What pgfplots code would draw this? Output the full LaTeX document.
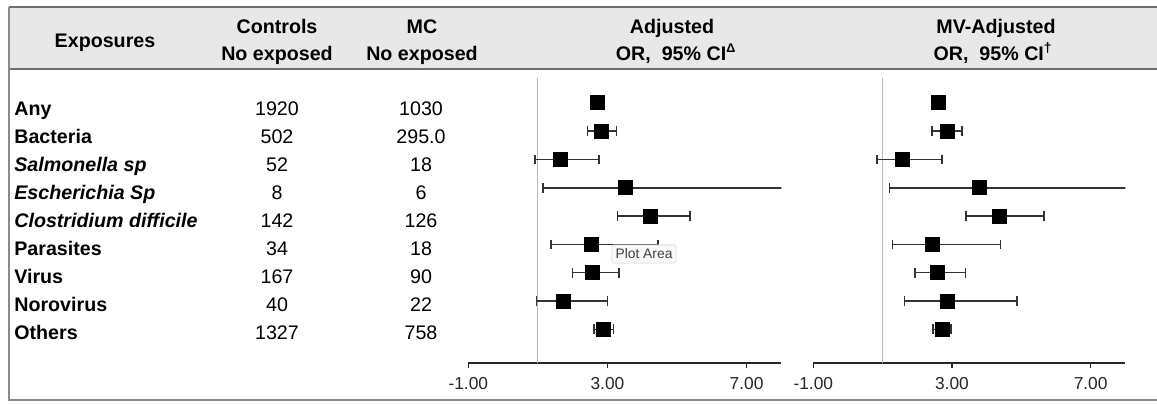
\documentclass[border=0pt]{standalone}
\usepackage{fontspec}
\setmainfont{Liberation Sans}
\usepackage{pgfplots}
\pgfplotsset{compat=1.18}
\usepackage{pgfplotstable}

% y = row position, or = odds ratio, lo/hi = 95% CI
\pgfplotstableread{
y or lo hi
-1 2.72 2.60 2.85
-2 2.83 2.43 3.26
-3 1.65 0.92 2.76
-4 3.52 1.14 9.50
-5 4.22 3.29 5.37
-6 2.54 1.38 4.46
-7 2.56 2.00 3.33
-8 1.73 0.96 3.00
-9 2.88 2.61 3.17
}\adjtable

\pgfplotstableread{
y or lo hi
-1 2.62 2.50 2.75
-2 2.86 2.43 3.29
-3 1.56 0.83 2.71
-4 3.80 1.20 9.50
-5 4.38 3.40 5.65
-6 2.43 1.29 4.40
-7 2.57 1.93 3.39
-8 2.86 1.63 4.88
-9 2.71 2.45 2.98
}\mvtable

\definecolor{hdrfill}{HTML}{E8E8E8}
\definecolor{hdrline}{HTML}{6E6E6E}
\definecolor{frameline}{HTML}{8A8A8A}

\pgfplotsset{
  forest/.style={
    scale only axis, height=171pt,
    xmin=-1, xmax=8, ymin=-10.2, ymax=-0.134,
    axis x line=bottom, axis y line=none,
    x axis line style={-, line width=1.1pt, black!85},
    xtick={-1,3,7}, ytick=\empty,
    tick align=outside, major tick length=3pt,
    xtick style={line width=0.9pt, black!85},
    xticklabel style={font=\fontsize{10.4}{12}\selectfont, text=black!85, yshift=-2.2pt},
    xticklabel={\pgfmathprintnumber[fixed, fixed zerofill, precision=2, assume math mode=true]{\tick}},
  },
  orplot/.style={
    only marks, mark=square*, mark size=4.2pt, black,
    error bars/.cd, x dir=both, x explicit,
    error bar style={line width=0.95pt, black!80},
    error mark options={black!80, line width=0.95pt, mark size=2.9pt, rotate=90},
  },
}

\begin{document}
\begin{tikzpicture}
% frame and header
\begin{scope}[x=0.6pt, y=-0.6pt]
  \path[use as bounding box] (0,0) rectangle (1157,403);
  \fill[hdrfill] (9,6.7) rectangle (1157,69.3);
  \draw[hdrline, line width=1.0pt] (9,6.7) -- (1157,6.7);
  \draw[hdrline, line width=1.3pt] (9,69.3) -- (1157,69.3);
  \draw[frameline, line width=0.9pt] (9,6.7) -- (9,400) -- (1157,400);
\end{scope}

\begin{axis}[forest, width=187.8pt, at={(280.98pt,-217.98pt)}, anchor=south west]
  \addplot[gray!55, line width=0.6pt] coordinates {(1,-10.2) (1,-0.134)};
  \addplot[orplot] table[x=or, y=y,
    x error plus expr=\thisrow{hi}-\thisrow{or},
    x error minus expr=\thisrow{or}-\thisrow{lo}] {\adjtable};
\end{axis}

\begin{axis}[forest, width=187.2pt, at={(487.98pt,-217.98pt)}, anchor=south west]
  \addplot[gray!55, line width=0.6pt] coordinates {(1,-10.2) (1,-0.134)};
  \addplot[orplot] table[x=or, y=y,
    x error plus expr=\thisrow{hi}-\thisrow{or},
    x error minus expr=\thisrow{or}-\thisrow{lo}] {\mvtable};
\end{axis}

\begin{scope}[x=0.6pt, y=-0.6pt, every node/.style={inner sep=0pt, font=\fontsize{11.8}{14}\selectfont}]
  % header texts
  \node[anchor=base, font=\fontsize{11.8}{14}\selectfont\bfseries] at (105,47) {Exposures};
  \node[anchor=base, font=\fontsize{11.8}{14}\selectfont\bfseries] at (277,33.3) {Controls};
  \node[anchor=base, font=\fontsize{11.8}{14}\selectfont\bfseries] at (277,60) {No exposed};
  \node[anchor=base, font=\fontsize{11.8}{14}\selectfont\bfseries] at (422,33.3) {MC};
  \node[anchor=base, font=\fontsize{11.8}{14}\selectfont\bfseries] at (422,60) {No exposed};
  \node[anchor=base, font=\fontsize{11.8}{14}\selectfont\bfseries] at (672,33.3) {Adjusted};
  \node[anchor=base, font=\fontsize{11.8}{14}\selectfont\bfseries] at (676,60) {OR,\ \ 95\% CI\textsuperscript{\fontsize{7.5}{8}\selectfont Δ}};
  \node[anchor=base, font=\fontsize{11.8}{14}\selectfont\bfseries] at (996,33.3) {MV-Adjusted};
  \node[anchor=base, font=\fontsize{11.8}{14}\selectfont\bfseries] at (993,60) {OR,\ \ 95\% CI\textsuperscript{†}};

  % row labels and counts
  \foreach \lab/\ctl/\mc [count=\i from 0] in {
      {\bfseries Any}/1920/1030,
      {\bfseries Bacteria}/502/295.0,
      {\bfseries\itshape Salmonella sp}/52/18,
      {\bfseries\itshape Escherichia Sp}/8/6,
      {\bfseries\itshape Clostridium difficile}/142/126,
      {\bfseries Parasites}/34/18,
      {\bfseries Virus}/167/90,
      {\bfseries Norovirus}/40/22,
      {\bfseries Others}/1327/758} {
    \pgfmathsetmacro{\yy}{115+28.1*\i}
    \node[anchor=base west] at (14,\yy) {\lab};
    \node[anchor=base] at (277,\yy) {\ctl};
    \node[anchor=base] at (421,\yy) {\mc};
  }

  % tooltip artefact
  \node[draw=gray!35, fill=gray!5, rounded corners=1pt, inner xsep=2.2pt, inner ysep=2.4pt,
        font=\fontsize{8.3}{9}\selectfont, text=black!75] at (644,254) {Plot Area};
\end{scope}
\end{tikzpicture}
\end{document}
